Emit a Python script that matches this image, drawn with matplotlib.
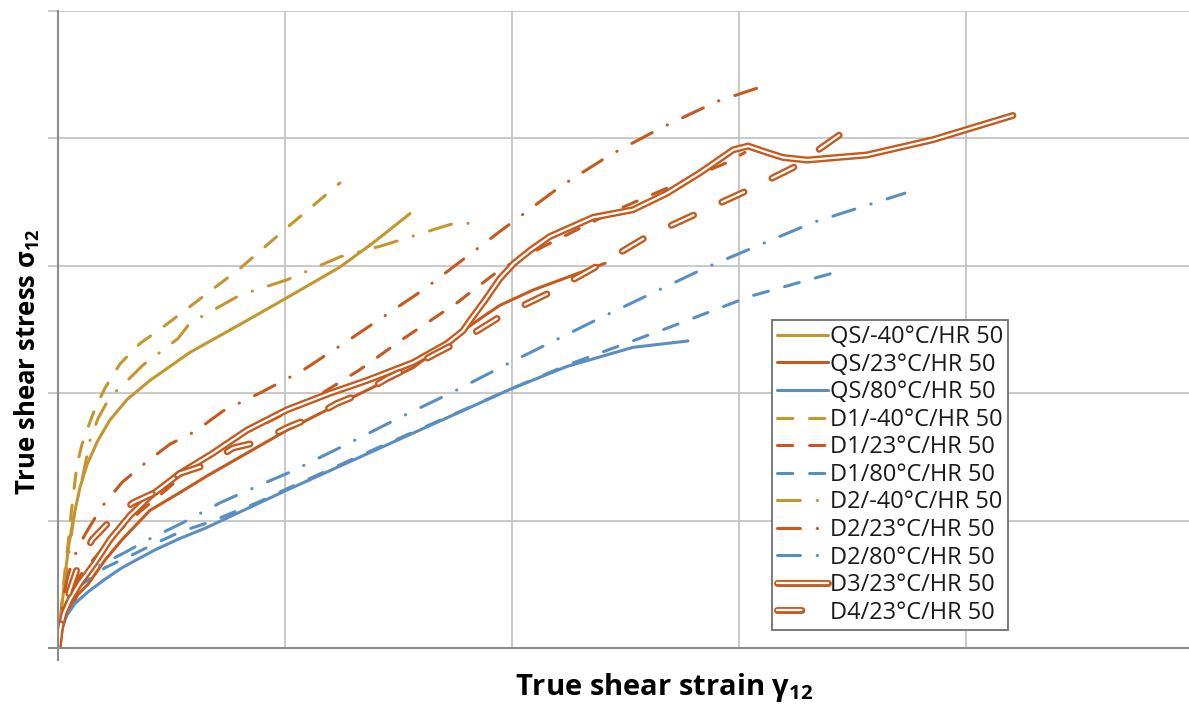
import matplotlib
matplotlib.use("Agg")
import matplotlib.pyplot as plt
import matplotlib.patheffects as pe

plt.rcParams['font.family'] = ['Open Sans', 'DejaVu Sans']
plt.rcParams['mathtext.fontset'] = 'custom'
plt.rcParams['mathtext.bf'] = 'Open Sans:bold'
plt.rcParams['mathtext.rm'] = 'Open Sans'

# ---------------- data ----------------
qs_m40_x = [0, 0.009, 0.018, 0.031, 0.048, 0.070, 0.097, 0.128, 0.176, 0.229, 0.304, 0.405, 0.581, 0.802, 1.009, 1.242, 1.388, 1.551]
qs_m40_y = [0, 0.13, 0.34, 0.57, 0.81, 1.04, 1.26, 1.44, 1.63, 1.79, 1.95, 2.10, 2.32, 2.54, 2.75, 2.99, 3.18, 3.41]

qs_23_x = [0, 0.013, 0.031, 0.053, 0.088, 0.132, 0.207, 0.282, 0.405, 0.537, 0.656, 1.009, 1.242, 1.564, 1.784, 1.880, 1.947, 2.093, 2.410]
qs_23_y = [0, 0.14, 0.24, 0.31, 0.42, 0.50, 0.69, 0.85, 1.08, 1.22, 1.35, 1.71, 1.92, 2.20, 2.49, 2.61, 2.69, 2.81, 3.02]

qs_80_x = [0, 0.009, 0.022, 0.040, 0.075, 0.132, 0.207, 0.282, 0.427, 0.537, 0.648, 1.009, 1.419, 1.991, 2.242, 2.533, 2.775]
qs_80_y = [0, 0.094, 0.18, 0.26, 0.35, 0.44, 0.54, 0.63, 0.77, 0.86, 0.94, 1.24, 1.57, 2.03, 2.21, 2.36, 2.41]

d1_m40_x = [0, 0.009, 0.018, 0.031, 0.044, 0.057, 0.070, 0.084, 0.106, 0.132, 0.163, 0.207, 0.273, 0.361, 0.463, 0.559, 0.802, 1.009, 1.242]
d1_m40_y = [0, 0.18, 0.38, 0.61, 0.81, 1.04, 1.24, 1.44, 1.60, 1.73, 1.88, 2.04, 2.23, 2.39, 2.52, 2.65, 2.98, 3.30, 3.65]

d1_23_x = [0, 0.009, 0.026, 0.053, 0.097, 0.163, 0.251, 0.361, 0.449, 0.581, 0.771, 0.877, 1.000, 1.154, 1.326, 1.515, 1.758, 1.947, 2.137, 2.463, 2.709, 2.947, 3.026]
d1_23_y = [0, 0.16, 0.30, 0.44, 0.57, 0.71, 0.89, 1.07, 1.20, 1.40, 1.65, 1.73, 1.84, 1.99, 2.18, 2.42, 2.71, 2.97, 3.15, 3.44, 3.63, 3.81, 3.89]

d1_80_x = [0, 0.009, 0.026, 0.053, 0.097, 0.207, 0.326, 0.427, 0.537, 0.670, 0.890, 1.009, 1.419, 1.991, 2.242, 2.683, 3.048, 3.467]
d1_80_y = [0, 0.14, 0.26, 0.38, 0.49, 0.63, 0.73, 0.82, 0.91, 0.99, 1.15, 1.25, 1.58, 2.03, 2.22, 2.51, 2.76, 2.97]

d2_m40_x = [0, 0.009, 0.018, 0.031, 0.044, 0.062, 0.079, 0.106, 0.141, 0.176, 0.216, 0.273, 0.317, 0.374, 0.471, 0.529, 0.581, 0.802, 1.009, 1.242, 1.432, 1.683, 1.758, 1.828]
d2_m40_y = [0, 0.14, 0.30, 0.49, 0.69, 0.93, 1.12, 1.32, 1.63, 1.80, 1.93, 2.05, 2.12, 2.22, 2.35, 2.43, 2.55, 2.77, 2.89, 3.07, 3.16, 3.30, 3.34, 3.33]

d2_23_x = [0, 0.009, 0.022, 0.044, 0.075, 0.097, 0.132, 0.194, 0.282, 0.383, 0.493, 0.604, 0.727, 0.899, 1.079, 1.300, 1.608, 1.947, 2.211, 2.432, 2.665, 2.903, 3.123]
d2_23_y = [0, 0.18, 0.38, 0.57, 0.73, 0.82, 0.93, 1.11, 1.30, 1.45, 1.60, 1.70, 1.86, 2.01, 2.18, 2.44, 2.81, 3.27, 3.62, 3.87, 4.09, 4.29, 4.42]

d2_80_x = [0, 0.009, 0.022, 0.044, 0.088, 0.163, 0.295, 0.396, 0.546, 0.714, 0.890, 1.022, 1.273, 1.507, 1.740, 1.991, 2.388, 2.859, 3.326, 3.731]
d2_80_y = [0, 0.13, 0.24, 0.38, 0.49, 0.63, 0.75, 0.85, 0.98, 1.14, 1.28, 1.38, 1.60, 1.81, 2.01, 2.24, 2.59, 2.99, 3.34, 3.57]

d3_23_x = [0, 0.009, 0.026, 0.053, 0.097, 0.163, 0.229, 0.317, 0.405, 0.537, 0.683, 0.833, 1.009, 1.198, 1.361, 1.564, 1.714, 1.784,
           1.815, 1.881, 1.947, 2.009, 2.079, 2.167, 2.357, 2.533, 2.683, 2.828, 2.974, 3.040, 3.123, 3.194, 3.300, 3.564, 3.855, 4.207]
d3_23_y = [0, 0.14, 0.27, 0.38, 0.51, 0.67, 0.85, 1.04, 1.19, 1.37, 1.53, 1.71, 1.87, 2.00, 2.10, 2.24, 2.39, 2.49,
           2.57, 2.73, 2.90, 3.02, 3.12, 3.23, 3.38, 3.44, 3.57, 3.73, 3.91, 3.94, 3.89, 3.85, 3.83, 3.87, 3.99, 4.18]

d4_23_x = [0, 0.009, 0.026, 0.053, 0.088, 0.150, 0.220, 0.330, 0.427, 0.537, 0.656, 0.771, 0.890, 1.009, 1.119, 1.229, 1.339,
           1.454, 1.559, 1.674, 1.784, 1.947, 2.167, 2.388, 2.595, 2.815, 3.035, 3.238, 3.445, 3.542]
d4_23_y = [0, 0.14, 0.30, 0.46, 0.64, 0.85, 0.98, 1.14, 1.22, 1.37, 1.44, 1.57, 1.62, 1.73, 1.81, 1.92, 2.00,
           2.12, 2.21, 2.32, 2.42, 2.60, 2.79, 3.01, 3.23, 3.41, 3.59, 3.77, 4.03, 4.11]

labels = ["QS/-40°C/HR 50", "QS/23°C/HR 50", "QS/80°C/HR 50",
          "D1/-40°C/HR 50", "D1/23°C/HR 50", "D1/80°C/HR 50",
          "D2/-40°C/HR 50", "D2/23°C/HR 50", "D2/80°C/HR 50",
          "D3/23°C/HR 50", "D4/23°C/HR 50"]

GOLD = '#C3972E'
ORANGE = '#C55A1E'
BLUE = '#5A8EC2'

# ---------------- figure ----------------
W, H = 1189, 708
fig = plt.figure(figsize=(W / 100, H / 100), dpi=100)
ax = fig.add_axes([58 / W, (H - 648) / H, (W - 58) / W, (648 - 11) / H])
xmax = (W - 58) / 227.0
ax.set_xlim(0, xmax)
ax.set_ylim(0, 5)

ax.set_xticks([1, 2, 3, 4])
ax.set_yticks([1, 2, 3, 4, 5])
ax.grid(True, color='#C0C0C0', linewidth=1.2)
ax.set_axisbelow(True)
ax.tick_params(axis='x', length=0, labelbottom=False)
ax.tick_params(axis='y', length=7, width=1.2, color='#C0C0C0', direction='out', labelleft=False)
for s in ['top', 'right']:
    ax.spines[s].set_visible(False)
for s in ['left', 'bottom']:
    ax.spines[s].set_color('#8C8C8C')
    ax.spines[s].set_linewidth(1.5)
ax.spines['left'].set_bounds(-12 / 127.4, 5)
ax.spines['bottom'].set_bounds(-9 / 227.0, xmax)

LW = 2.2
common = dict(linewidth=LW, solid_capstyle='round', dash_capstyle='round', solid_joinstyle='round')
dash = (5, 5.5)
dashdot = (7.5, 5.5, 0.1, 5.5)

handles = []
handles += ax.plot(qs_m40_x, qs_m40_y, color=GOLD, label=labels[0], **common)
handles += ax.plot(qs_23_x, qs_23_y, color=ORANGE, label=labels[1], **common)
handles += ax.plot(qs_80_x, qs_80_y, color=BLUE, label=labels[2], **common)
handles += ax.plot(d1_m40_x, d1_m40_y, color=GOLD, dashes=dash, label=labels[3], **common)
handles += ax.plot(d1_23_x, d1_23_y, color=ORANGE, dashes=dash, label=labels[4], **common)
handles += ax.plot(d1_80_x, d1_80_y, color=BLUE, dashes=dash, label=labels[5], **common)
handles += ax.plot(d2_m40_x, d2_m40_y, color=GOLD, dashes=dashdot, label=labels[6], **common)
handles += ax.plot(d2_23_x, d2_23_y, color=ORANGE, dashes=dashdot, label=labels[7], **common)
handles += ax.plot(d2_80_x, d2_80_y, color=BLUE, dashes=dashdot, label=labels[8], **common)

dbl = [pe.Stroke(linewidth=5.0, foreground=ORANGE), pe.Normal()]
handles += ax.plot(d3_23_x, d3_23_y, color='white', linewidth=1.6, solid_capstyle='round',
                   solid_joinstyle='round', path_effects=dbl, label=labels[9])
handles += ax.plot(d4_23_x, d4_23_y, color='white', linewidth=1.6, dashes=(11, 14),
                   dash_capstyle='round', dash_joinstyle='round', path_effects=dbl, label=labels[10])

leg = ax.legend(handles=handles, loc='upper left', bbox_to_anchor=(772 / W, 1 - 320 / H),
                bbox_transform=fig.transFigure, fancybox=False, framealpha=1,
                edgecolor='#6E6E6E', fontsize=17, handlelength=2.15, handletextpad=0.08,
                labelspacing=0.15, borderpad=0.22, borderaxespad=0)
leg.get_frame().set_linewidth(1.3)
for t in leg.get_texts():
    t.set_color('#1A1A1A')

fig.text(664 / W, 1 - 688 / H, r'True shear strain γ$_{\mathbf{12}}$', ha='center', va='center',
         fontsize=21, fontweight='bold', color='black')
fig.text(27 / W, 1 - 362 / H, r'True shear stress σ$_{\mathbf{12}}$', ha='center', va='center',
         rotation=90, fontsize=18.5, fontweight='bold', color='black')

fig.savefig('out.png', dpi=100)
